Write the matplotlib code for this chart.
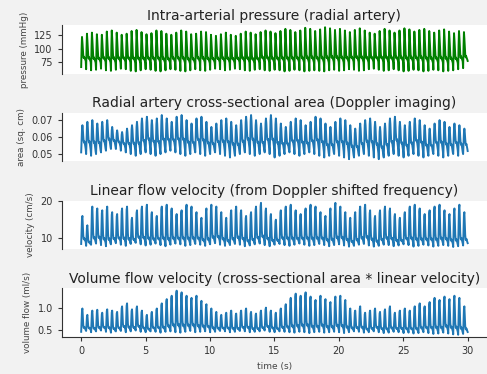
import numpy as np
import matplotlib.pyplot as plt

# per-beat peak / trough values (78 beats over 30 s)
pressure_peaks = [122, 128, 130, 127, 126, 132, 134, 130, 126, 128, 133, 135, 131, 127, 129, 134, 133, 128, 126, 130, 134, 132, 127, 128, 132, 131,
                  126, 124, 127, 130, 126, 124, 128, 132, 130, 127, 131, 134, 132, 129, 133, 137, 135, 131, 134, 139, 137, 133, 136, 140, 138, 135,
                  137, 134, 131, 135, 138, 134, 130, 128, 133, 137, 134, 130, 134, 138, 136, 132, 135, 137, 133, 130, 134, 136, 132, 129, 133, 131]
pressure_troughs = [66, 62, 60, 61, 63, 60, 59, 61, 63, 62, 59, 58, 60, 62, 61, 59, 58, 60, 62, 61, 59, 58, 60, 62, 60, 59,
                    61, 63, 62, 60, 61, 63, 62, 60, 59, 61, 62, 60, 59, 61, 60, 58, 59, 61, 60, 58, 59, 60, 59, 58, 60, 61,
                    59, 60, 62, 61, 59, 60, 62, 63, 61, 59, 60, 62, 60, 58, 59, 61, 60, 58, 59, 61, 60, 58, 59, 60, 62, 64]

area_peaks = [0.067, 0.069, 0.070, 0.068, 0.069, 0.070, 0.066, 0.064, 0.063, 0.065, 0.067, 0.069, 0.071, 0.072, 0.070, 0.071, 0.073, 0.071, 0.069, 0.072, 0.073, 0.070, 0.068, 0.071, 0.072, 0.069,
              0.066, 0.068, 0.070, 0.071, 0.069, 0.067, 0.070, 0.072, 0.073, 0.070, 0.068, 0.071, 0.073, 0.071, 0.068, 0.066, 0.069, 0.071, 0.070, 0.067, 0.069, 0.072, 0.071, 0.068, 0.066, 0.069,
              0.071, 0.070, 0.067, 0.065, 0.068, 0.070, 0.071, 0.069, 0.066, 0.068, 0.071, 0.072, 0.069, 0.067, 0.069, 0.071, 0.070, 0.067, 0.065, 0.068, 0.070, 0.069, 0.066, 0.068, 0.067, 0.065]
area_troughs = [0.051, 0.050, 0.049, 0.050, 0.051, 0.052, 0.053, 0.053, 0.052, 0.051, 0.050, 0.049, 0.050, 0.051, 0.050, 0.049, 0.050, 0.051, 0.052, 0.051, 0.050, 0.049, 0.050, 0.051, 0.050, 0.049,
                0.050, 0.051, 0.050, 0.049, 0.048, 0.049, 0.050, 0.051, 0.050, 0.049, 0.050, 0.051, 0.050, 0.048, 0.049, 0.050, 0.051, 0.050, 0.049, 0.050, 0.051, 0.050, 0.049, 0.048, 0.049, 0.050,
                0.049, 0.048, 0.047, 0.048, 0.049, 0.050, 0.049, 0.048, 0.047, 0.048, 0.049, 0.050, 0.049, 0.048, 0.049, 0.050, 0.049, 0.048, 0.049, 0.050, 0.049, 0.048, 0.049, 0.050, 0.049, 0.050]

velocity_peaks = [16.0, 13.5, 18.5, 18.0, 17.5, 18.5, 17.0, 16.5, 18.0, 18.5, 15.5, 17.5, 18.5, 19.0, 17.0, 16.0, 18.5, 19.0, 18.0, 16.5, 17.5, 19.0, 18.5, 17.0, 15.5, 18.0,
                  19.0, 18.5, 17.0, 15.5, 17.5, 18.5, 17.5, 16.0, 17.0, 18.5, 19.5, 18.0, 16.5, 15.0, 17.5, 18.5, 19.0, 17.5, 16.5, 18.0, 19.0, 18.5, 17.0, 16.0, 18.0, 19.5,
                  18.5, 17.0, 15.5, 17.0, 18.5, 19.0, 17.5, 16.0, 17.5, 18.5, 18.0, 16.5, 15.5, 17.0, 18.5, 19.0, 18.0, 16.5, 17.5, 18.5, 19.0, 17.5, 16.5, 18.0, 19.0, 17.0]
velocity_troughs = [8.5, 8.0, 8.3, 8.6, 8.2, 7.9, 8.4, 8.7, 8.3, 8.0, 8.5, 8.8, 8.4, 8.1, 8.3, 8.6, 8.2, 7.9, 8.3, 8.6, 8.4, 8.0, 8.2, 8.5, 8.3, 8.0,
                    8.4, 8.7, 8.3, 8.0, 8.2, 8.5, 8.3, 7.9, 8.1, 8.4, 8.6, 8.2, 7.9, 8.3, 8.5, 8.2, 8.0, 8.3, 8.6, 8.3, 8.0, 8.2, 8.5, 8.2, 7.9, 8.2,
                    8.4, 8.1, 7.8, 8.0, 8.3, 8.5, 8.1, 7.8, 8.0, 8.3, 8.2, 7.9, 8.1, 8.4, 8.2, 7.8, 8.0, 8.3, 8.1, 7.8, 8.0, 8.2, 8.0, 7.7, 7.9, 8.1]

volume_peaks = [1.0, 0.85, 0.95, 0.97, 0.9, 0.98, 0.95, 0.92, 1.05, 1.12, 0.98, 1.05, 0.95,
                0.85, 0.92, 1.0, 1.12, 1.22,
                1.3, 1.42, 1.38, 1.3, 1.25, 1.3, 1.18, 1.1, 1.0,
                0.92, 0.85, 0.9, 0.95, 0.88, 0.95, 1.0, 0.92, 0.88, 0.95, 1.02, 0.95, 0.9, 1.0, 1.1,
                1.25, 1.35, 1.3, 1.38, 1.28, 1.2, 1.3, 1.22, 1.15, 1.28,
                1.3, 1.2, 1.0, 0.95, 1.05, 0.9, 0.95, 1.0, 0.92, 0.98, 1.05, 0.9, 0.95, 1.0,
                0.95, 1.05, 1.12, 1.05, 1.15, 1.25, 1.2, 1.28, 1.22, 1.3, 1.25, 1.05]
volume_troughs = [0.45, 0.47, 0.44, 0.46, 0.48, 0.45, 0.43, 0.46, 0.47, 0.44, 0.46, 0.48, 0.45,
                  0.44, 0.46, 0.45, 0.43, 0.45,
                  0.46, 0.44, 0.43, 0.45, 0.47, 0.44, 0.45, 0.46, 0.44,
                  0.45, 0.47, 0.46, 0.44, 0.45, 0.47, 0.46, 0.44, 0.45, 0.46, 0.48, 0.45, 0.44, 0.46, 0.45,
                  0.44, 0.43, 0.45, 0.44, 0.42, 0.44, 0.45, 0.43, 0.44, 0.45,
                  0.44, 0.42, 0.44, 0.46, 0.45, 0.43, 0.44, 0.46, 0.44, 0.42, 0.43, 0.45, 0.44, 0.42,
                  0.43, 0.41, 0.42, 0.44, 0.42, 0.40, 0.41, 0.43, 0.41, 0.39, 0.38, 0.40]

# shape of one beat (0 = trough, 1 = peak)
pressure_beat = [0.0, 0.6, 1.0, 0.82, 0.58, 0.4, 0.3, 0.34, 0.3, 0.27, 0.24, 0.2]
area_beat = [0.0, 0.4, 0.85, 1.0, 0.85, 0.6, 0.42, 0.36, 0.4, 0.32, 0.22, 0.12]
velocity_beat = [0.0, 0.45, 0.92, 1.0, 0.65, 0.32, 0.18, 0.16, 0.2, 0.15, 0.11, 0.07]
volume_beat = [0.0, 0.45, 0.92, 1.0, 0.62, 0.3, 0.18, 0.16, 0.2, 0.15, 0.11, 0.07]


def trace(peaks, troughs, beat):
    peaks = np.asarray(peaks)[:, None]
    troughs = np.asarray(troughs)[:, None]
    return (troughs + (peaks - troughs) * np.asarray(beat)[None, :]).ravel()


panels = [
    ("Intra-arterial pressure (radial artery)", "pressure (mmHg)", trace(pressure_peaks, pressure_troughs, pressure_beat), "green"),
    ("Radial artery cross-sectional area (Doppler imaging)", "area (sq. cm)", trace(area_peaks, area_troughs, area_beat), "tab:blue"),
    ("Linear flow velocity (from Doppler shifted frequency)", "velocity (cm/s)", trace(velocity_peaks, velocity_troughs, velocity_beat), "tab:blue"),
    ("Volume flow velocity (cross-sectional area * linear velocity)", "volume flow (ml/s)", trace(volume_peaks, volume_troughs, volume_beat), "tab:blue"),
]

fig, axes = plt.subplots(4, 1, figsize=(4.87, 3.74), dpi=100, facecolor="#f2f2f2")
fig.subplots_adjust(left=0.127, right=1.0, top=0.933, bottom=0.099, hspace=0.81)

for i, (ax, (title, ylabel, y, color)) in enumerate(zip(axes, panels)):
    t = np.linspace(0, 30, len(y))
    ax.plot(t, y, color=color, lw=1.4)
    ax.set_title(title, fontsize=10, pad=4, color="#222222")
    ax.set_ylabel(ylabel, fontsize=6.3, color="#444444")
    ax.tick_params(labelsize=7, length=3, colors="#333333")
    ax.spines["top"].set_visible(False)
    ax.spines["right"].set_visible(False)
    ax.spines["left"].set_color("#333333")
    ax.spines["bottom"].set_color("#333333")
    if i < 3:
        ax.spines["bottom"].set_visible(False)
        ax.set_xticks([])
    else:
        ax.set_xticks([0, 5, 10, 15, 20, 25, 30])
        ax.set_xlabel("time (s)", fontsize=6.5, color="#444444")

axes[0].set_yticks([75, 100, 125])
axes[1].set_yticks([0.05, 0.06, 0.07])
axes[2].set_yticks([10, 20])
axes[3].set_yticks([0.5, 1.0])

fig.savefig("out.png", dpi=100, facecolor=fig.get_facecolor())
